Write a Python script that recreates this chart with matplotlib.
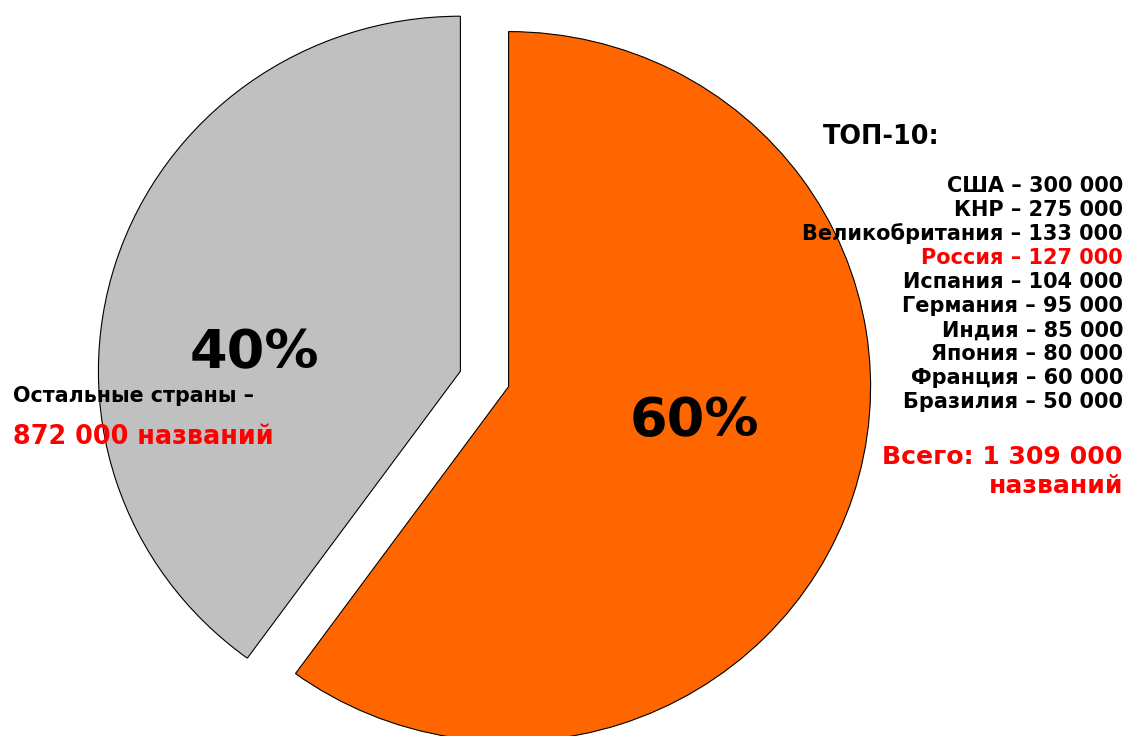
import matplotlib
matplotlib.use("Agg")
import matplotlib.pyplot as plt

# Top-10 countries by number of published titles
countries = ["США", "КНР", "Великобритания", "Россия", "Испания",
             "Германия", "Индия", "Япония", "Франция", "Бразилия"]
titles = [300000, 275000, 133000, 127000, 104000,
          95000, 85000, 80000, 60000, 50000]
others_titles = 872000
highlight = "Россия"

def fmt(n):
    return f"{n:,}".replace(",", " ")

top_total = sum(titles)
shares = [top_total, others_titles]
colors = ["#FF6600", "#C0C0C0"]

W, H = 1127, 736
fig = plt.figure(figsize=(W / 100, H / 100), dpi=100)

# pixel geometry of the pie (slightly wider than tall)
cx, cy = 484.5, 378.9
rx, ry = 362.0, 355.0
lim = 1.5
ax = fig.add_axes([(cx - lim * rx) / W, (H - cy - lim * ry) / H,
                   2 * lim * rx / W, 2 * lim * ry / H])
ax.pie(shares, colors=colors, startangle=90, counterclock=False,
       explode=[0.07, 0.07],
       wedgeprops=dict(edgecolor="black", linewidth=0.8))
ax.set_aspect("auto")
ax.set_xlim(-lim, lim)
ax.set_ylim(-lim, lim)
ax.axis("off")

def px(x, y):
    return x / W, 1 - y / H

font = "DejaVu Sans"
fw = "bold"

# percentage labels
pct_top = 100 * top_total / sum(shares)
pct_oth = 100 * others_titles / sum(shares)
fig.text(*px(694, 436), f"{pct_top:.0f}%", ha="center", va="baseline",
         fontsize=39, fontweight=fw, family=font)
fig.text(*px(254, 368), f"{pct_oth:.0f}%", ha="center", va="baseline",
         fontsize=39, fontweight=fw, family=font)

# left annotation
fig.text(*px(13, 401.7), "Остальные страны –", ha="left", va="baseline",
         fontsize=14.9, fontweight=fw, family=font, color="black")
fig.text(*px(13, 444), f"{fmt(others_titles)} названий", ha="left",
         va="baseline", fontsize=18.4, fontweight=fw, family=font, color="red")

# right list
fig.text(*px(823, 144.3), "ТОП-10:", ha="left", va="baseline",
         fontsize=18.4, fontweight=fw, family=font)
x_right = 1123
for i, (c, v) in enumerate(zip(countries, titles)):
    col = "red" if c == highlight else "black"
    fig.text(*px(x_right, 192.3 + 24.0 * i), f"{c} – {fmt(v)}",
             ha="right", va="baseline", fontsize=15.0, fontweight=fw,
             family=font, color=col)

fig.text(*px(x_right, 464), f"Всего: {fmt(top_total)}", ha="right",
         va="baseline", fontsize=18.1, fontweight=fw, family=font, color="red")
fig.text(*px(x_right, 493.3), "названий", ha="right", va="baseline",
         fontsize=18.1, fontweight=fw, family=font, color="red")

fig.savefig("out.png", dpi=100, facecolor="white")
